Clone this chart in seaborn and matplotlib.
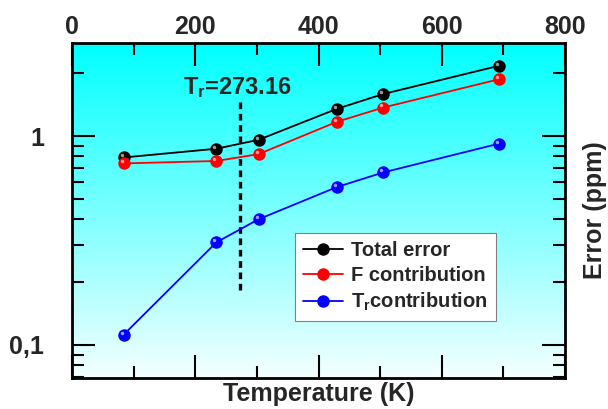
import numpy as np
import pandas as pd
import matplotlib
matplotlib.use("Agg")
import matplotlib.pyplot as plt
import matplotlib.ticker as mticker
import matplotlib.transforms as mtransforms
from matplotlib.colors import LinearSegmentedColormap
import seaborn as sns

# ---- data ----
temperature = [83.8, 234.3, 302.9, 429.7, 505.1, 692.7]
total_error = [0.79, 0.87, 0.96, 1.35, 1.59, 2.17]
f_contrib = [0.74, 0.76, 0.82, 1.17, 1.37, 1.87]
tr_contrib = [0.112, 0.31, 0.40, 0.57, 0.67, 0.92]
series_names = ["Total error", "F contribution", r"T$_\mathregular{r}$contribution"]
series_colors = ["black", "red", "blue"]
tr_value = 273.16
tr_line_range = [0.183, 1.46]
x_ticks = [0, 200, 400, 600, 800]
y_ticks = [0.1, 1]
y_tick_labels = ["0,1", "1"]

sns.set_theme(style="white")
plt.rcParams["font.family"] = ["Liberation Sans", "DejaVu Sans"]
plt.rcParams["font.weight"] = "bold"
plt.rcParams["mathtext.fontset"] = "custom"
plt.rcParams["mathtext.rm"] = "Liberation Sans:bold"
plt.rcParams["mathtext.it"] = "Liberation Sans:bold"
plt.rcParams["mathtext.bf"] = "Liberation Sans:bold"

df = pd.DataFrame({
    "T": temperature * 3,
    "err": total_error + f_contrib + tr_contrib,
    "series": [series_names[0]] * 6 + [series_names[1]] * 6 + [series_names[2]] * 6,
})

fig = plt.figure(figsize=(6.08, 4.09), dpi=100)
ax = fig.add_axes([72 / 608, 1 - 378 / 409, 493 / 608, 335 / 409])

# gradient background
cmap = LinearSegmentedColormap.from_list("bg", ["#f4ffff", "#00ffff"])
grad = np.linspace(0, 1, 256).reshape(-1, 1)
ax.imshow(grad, extent=[0, 1, 0, 1], transform=ax.transAxes, aspect="auto",
          cmap=cmap, origin="lower", zorder=0, interpolation="bicubic")

sns.lineplot(data=df, x="T", y="err", hue="series", palette=series_colors,
             marker="o", markersize=9, markeredgewidth=0, linewidth=1.3,
             ax=ax, zorder=3, legend=True)

# sphere highlights
hl = mtransforms.offset_copy(ax.transData, fig=fig, x=-1.5, y=1.5, units="points")
for vals, c in zip([total_error, f_contrib, tr_contrib], ["#9a9a9a", "#ff9a9a", "#9a9aff"]):
    ax.plot(temperature, vals, linestyle="none", marker="o", markersize=2.5,
            color=c, markeredgewidth=0, transform=hl, zorder=4)

ax.set_yscale("log")
ax.set_xlim(0, 800)
ax.set_ylim(0.0695, 2.79)

# T_r marker line
ax.plot([tr_value, tr_value], tr_line_range, color="black", linestyle=(0, (2.0, 1.4)),
        linewidth=2.4, zorder=2)
ax.text(tr_value - 5, 1.70, r"T$_\mathregular{r}$=273.16", ha="center", va="center",
        fontsize=17, fontweight="bold", zorder=5)

# axes formatting
ax.xaxis.set_major_locator(mticker.FixedLocator(x_ticks))
ax.xaxis.set_minor_locator(mticker.MultipleLocator(100))
ax.xaxis.tick_top()
ax.xaxis.set_ticks_position("both")
ax.tick_params(axis="x", which="both", labelbottom=False, labeltop=True)
ax.yaxis.set_major_locator(mticker.FixedLocator(y_ticks))
ax.yaxis.set_major_formatter(mticker.FixedFormatter(y_tick_labels))
ax.yaxis.set_minor_locator(mticker.LogLocator(base=10, subs=np.arange(2, 10)))
ax.yaxis.set_minor_formatter(mticker.NullFormatter())
ax.yaxis.set_ticks_position("both")
ax.tick_params(axis="both", which="major", direction="in", length=16.5, width=1.5,
               labelsize=18, color="black")
ax.tick_params(axis="both", which="minor", direction="in", length=8.5, width=1.5,
               color="black")
ax.tick_params(axis="x", which="major", pad=3)
ax.tick_params(axis="y", which="major", pad=20, labelleft=True, labelright=False)
for lab in ax.get_xticklabels() + ax.get_yticklabels():
    lab.set_fontweight("bold")
for s in ax.spines.values():
    s.set_linewidth(2)
    s.set_color("black")
    s.set_visible(True)

ax.set_xlabel("Temperature (K)", fontsize=18, fontweight="bold", labelpad=3)
ax.xaxis.set_label_position("bottom")
ax.set_ylabel("Error (ppm)", fontsize=18, fontweight="bold", labelpad=13)
ax.yaxis.set_label_position("right")

# legend
handles, labels = ax.get_legend_handles_labels()
leg = ax.legend(handles[:3], labels[:3], loc="lower left",
                bbox_to_anchor=(0.452, 0.17), fontsize=14.5, frameon=True,
                fancybox=False, edgecolor="#808080", facecolor="white", framealpha=1,
                handlelength=2.0, handletextpad=0.4, borderpad=0.4, labelspacing=0.3,
                borderaxespad=0)
leg.get_frame().set_linewidth(0.8)
for t in leg.get_texts():
    t.set_fontweight("bold")
leg.set_zorder(6)

fig.savefig("out.png", dpi=100)
